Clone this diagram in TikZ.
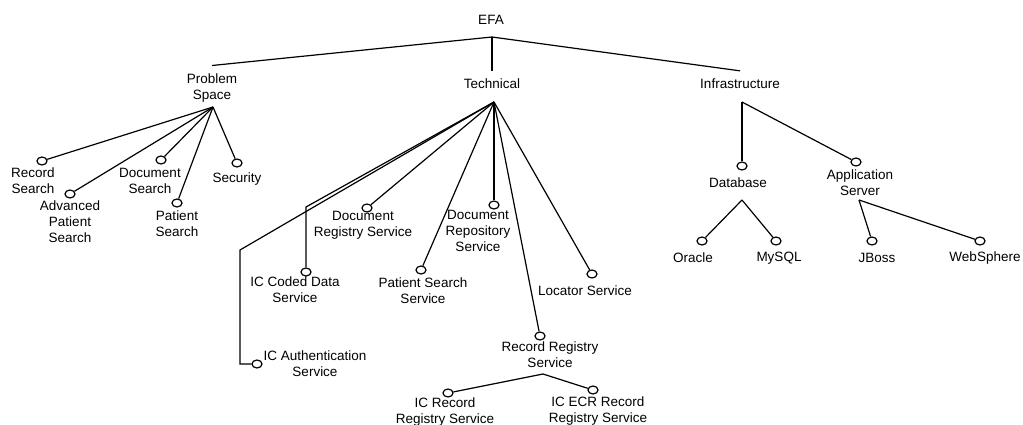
\documentclass[tikz,border=0pt]{standalone}
\usepackage{fontspec}
\setmainfont{Liberation Sans}
\usetikzlibrary{shapes.geometric}
\tikzset{
  lbl/.style={align=center, inner sep=0pt, font=\fontsize{13.5}{16}\selectfont},
  head/.style={lbl, inner ysep=8pt},
  leaf/.style={ellipse, draw, line width=1.2pt, inner sep=0pt, minimum width=10pt, minimum height=8pt},
  link/.style={line width=1.2pt, line join=miter},
}
\begin{document}
\begin{tikzpicture}[x=1pt, y=-1pt]
\useasboundingbox (0,0) rectangle (1023,425);

% root and first level
\node[lbl] (efa) at (491,20) {EFA};
\coordinate (root) at (492,37);
\node[head] (ps) at (212,88) {Problem\\Space};
\node[head] (tech) at (492,84) {Technical};
\node[head] (infra) at (740,84) {Infrastructure};
\draw[link] (root) -- (ps.north);
\draw[link] (root) -- (tech.north);
\draw[link] (root) -- (infra.north);

% problem space
\coordinate (psj) at (213,107);
\node[leaf] (c-rs) at (42,161) {};
\node[lbl] (t-rs) at (33,180.5) {Record\\Search};
\node[leaf] (c-aps) at (70,194) {};
\node[lbl] (t-aps) at (70,222) {Advanced\\Patient\\Search};
\node[leaf] (c-ds) at (161,160) {};
\node[lbl] (t-ds) at (150,180.5) {Document\\Search};
\node[leaf] (c-pts) at (177,203) {};
\node[lbl] (t-pts) at (177,224) {Patient\\Search};
\node[leaf] (c-sec) at (237,163) {};
\node[lbl] (t-sec) at (237,179) {Security};
\foreach \n in {rs,aps,ds,pts,sec} \draw[link] (psj) -- (c-\n);

% technical
\coordinate (tj) at (494,102);
\coordinate (ica-a) at (240,250);
\coordinate (ica-b) at (240,364);
\node[leaf] (c-ica) at (257,364) {};
\node[lbl] (t-ica) at (315,364) {IC Authentication\\Service};
\coordinate (icc-a) at (306,207);
\node[leaf] (c-icc) at (306,272) {};
\node[lbl] (t-icc) at (295,290) {IC Coded Data\\Service};
\node[leaf] (c-drs) at (367,208) {};
\node[lbl] (t-drs) at (363,225.5) {Document\\Registry Service};
\node[leaf] (c-pss) at (421,270) {};
\node[lbl] (t-pss) at (423,290.5) {Patient Search\\Service};
\node[leaf] (c-drp) at (494,205) {};
\node[lbl] (t-drp) at (478,230.5) {Document\\Repository\\Service};
\node[leaf] (c-rrs) at (540,336) {};
\node[lbl] (t-rrs) at (550,355) {Record Registry\\Service};
\node[leaf] (c-loc) at (592,274) {};
\node[lbl] (t-loc) at (585,291) {Locator Service};
\draw[link] (tj) -- (ica-a) -- (ica-b) -- (c-ica);
\draw[link] (tj) -- (icc-a) -- (c-icc);
\foreach \n in {drs,pss,drp,rrs,loc} \draw[link] (tj) -- (c-\n);

% record registry
\coordinate (rrj) at (543,374);
\node[leaf] (c-icr) at (448,393) {};
\node[lbl] (t-icr) at (445,412) {IC Record\\Registry Service};
\node[leaf] (c-ecr) at (593,390) {};
\node[lbl] (t-ecr) at (598,411.5) {IC ECR Record\\Registry Service};
\draw[link] (rrj) -- (c-icr);
\draw[link] (rrj) -- (c-ecr);

% infrastructure
\coordinate (ij) at (742,102);
\node[leaf] (c-db) at (742,166) {};
\node[lbl] (t-db) at (738,183) {Database};
\node[leaf] (c-as) at (856,162) {};
\node[lbl] (t-as) at (860,182.5) {Application\\Server};
\draw[link] (ij) -- (c-db);
\draw[link] (ij) -- (c-as);

\coordinate (dbj) at (742,200);
\node[leaf] (c-ora) at (702,241) {};
\node[lbl] (t-ora) at (693,258) {Oracle};
\node[leaf] (c-my) at (776,241) {};
\node[lbl] (t-my) at (779,258) {MySQL};
\draw[link] (dbj) -- (c-ora);
\draw[link] (dbj) -- (c-my);

\coordinate (asj) at (859,200);
\node[leaf] (c-jb) at (872,241) {};
\node[lbl] (t-jb) at (877,258) {JBoss};
\node[leaf] (c-ws) at (980,241) {};
\node[lbl] (t-ws) at (985,258) {WebSphere};
\draw[link] (asj) -- (c-jb);
\draw[link] (asj) -- (c-ws);
\end{tikzpicture}
\end{document}
